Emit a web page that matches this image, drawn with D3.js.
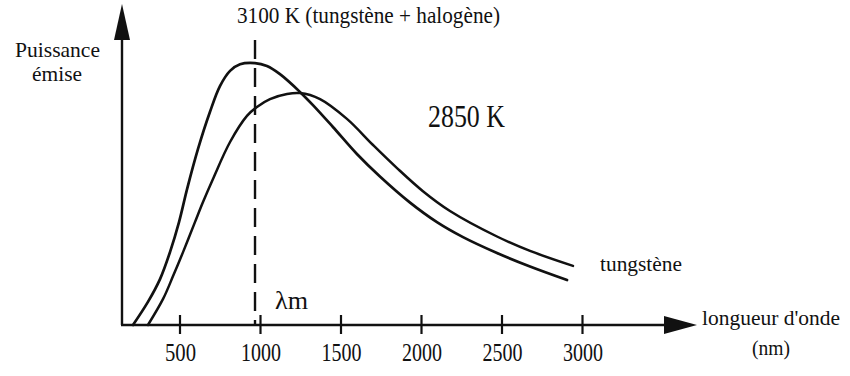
<!DOCTYPE html>
<html>
<head>
<meta charset="utf-8">
<script src="https://cdn.jsdelivr.net/npm/d3@7"></script>
<style>
  html, body { margin: 0; padding: 0; background: #fff; }
  svg { display: block; }
</style>
</head>
<body>
<svg id="chart" width="850" height="376"></svg>
<script>
// ---- data (arbitrary power units) ----
const lambda3100 = [211, 304, 379, 441, 497, 547, 615, 689, 752, 814, 876, 969, 1043, 1124, 1248, 1329, 1453, 1602, 1745, 1932, 2099, 2261, 2472, 2677, 2907];
const power3100  = [0, 7.7, 15.3, 24.3, 34.3, 45.3, 58.7, 71, 79.7, 84.7, 86.9, 87.3, 86.3, 83.6, 77.7, 73.3, 66, 57, 49.5, 40.8, 34.3, 29.3, 24, 19.5, 15];
const lambda2850 = [304, 398, 460, 522, 596, 646, 708, 814, 919, 981, 1062, 1168, 1248, 1373, 1540, 1702, 1851, 2012, 2180, 2472, 2677, 2944];
const power2850  = [0, 8.7, 16.3, 24.3, 34.3, 41, 48.7, 61, 69.7, 72.7, 75.3, 77, 77.3, 75.3, 68.7, 60, 52.3, 44.6, 38, 29.5, 24.7, 19.7];
const tickValues = [500, 1000, 1500, 2000, 2500, 3000];
const tickLabels = ["500", "1000", "1500", "2000", "2500", "3000"];
const lambdaMax = 969;

const FONT = "'Liberation Serif', 'Times New Roman', 'DejaVu Serif', serif";
const svg = d3.select("#chart");
const x = d3.scaleLinear().domain([500, 3000]).range([179.5, 582]);
const y = d3.scaleLinear().domain([0, 100]).range([325, 25]);

const axisX0 = 122, axisY0 = y(0);
const ink = "#111";

// y axis line + arrow
svg.append("line").attr("x1", axisX0).attr("x2", axisX0).attr("y1", axisY0).attr("y2", 30)
  .attr("stroke", ink).attr("stroke-width", 2.4);
svg.append("path").attr("d", `M${axisX0},4 L${axisX0 - 8},40 L${axisX0 + 8},40 Z`).attr("fill", ink);

// x axis line + arrow
svg.append("line").attr("x1", axisX0 - 1).attr("x2", 675).attr("y1", axisY0).attr("y2", axisY0)
  .attr("stroke", ink).attr("stroke-width", 2.4);
svg.append("path").attr("d", `M697,${axisY0} L664,${axisY0 - 9} L664,${axisY0 + 9} Z`).attr("fill", ink);

// ticks via d3 axis
const xAxis = d3.axisBottom(x).tickValues(tickValues).tickFormat(() => "").tickSize(0);
const gAxis = svg.append("g").attr("transform", `translate(0,${axisY0})`).call(xAxis);
gAxis.select(".domain").remove();
gAxis.selectAll(".tick line").attr("y1", -10).attr("y2", 9).attr("stroke", ink).attr("stroke-width", 2.2);
gAxis.selectAll(".tick text").remove();

// tick labels (condensed serif look)
svg.append("g").selectAll("text").data(tickValues).join("text")
  .attr("x", d => x(d) + 1).attr("y", 361)
  .attr("text-anchor", "middle")
  .attr("font-family", FONT)
  .attr("font-size", 25)
  .attr("fill", ink)
  .attr("textLength", (d, i) => tickLabels[i].length === 3 ? 31 : 40)
  .attr("lengthAdjust", "spacingAndGlyphs")
  .text((d, i) => tickLabels[i]);

// curves
const line = d3.line().x(d => x(d[0])).y(d => y(d[1])).curve(d3.curveCatmullRom.alpha(0.5));
svg.append("path").datum(d3.zip(lambda3100, power3100)).attr("d", line)
  .attr("fill", "none").attr("stroke", ink).attr("stroke-width", 2.7).attr("stroke-linecap", "round");
svg.append("path").datum(d3.zip(lambda2850, power2850)).attr("d", line)
  .attr("fill", "none").attr("stroke", ink).attr("stroke-width", 2.5).attr("stroke-linecap", "round");

// dashed lambda max line
svg.append("line").attr("x1", x(lambdaMax)).attr("x2", x(lambdaMax)).attr("y1", 40).attr("y2", axisY0)
  .attr("stroke", ink).attr("stroke-width", 2.4).attr("stroke-dasharray", "19,9");

// labels
function label(txt, xx, yy, fs, len, anchor) {
  const t = svg.append("text").attr("x", xx).attr("y", yy).attr("font-size", fs)
    .attr("font-family", FONT).attr("fill", ink)
    .attr("text-anchor", anchor || "start").text(txt);
  if (len) t.attr("textLength", len).attr("lengthAdjust", "spacingAndGlyphs");
  return t;
}
label("Puissance", 15, 57, 22, 85);
label("émise", 32, 81, 22, 50);
label("3100 K (tungstène + halogène)", 237, 23, 23, 263);
label("2850 K", 428, 127, 32, 77);
label("λm", 275, 309, 25, 33);
label("tungstène", 600, 271, 22, 82);
label("longueur d'onde", 702, 325, 21, 138);
label("(nm)", 752, 355, 21, 38);
</script>
</body>
</html>
